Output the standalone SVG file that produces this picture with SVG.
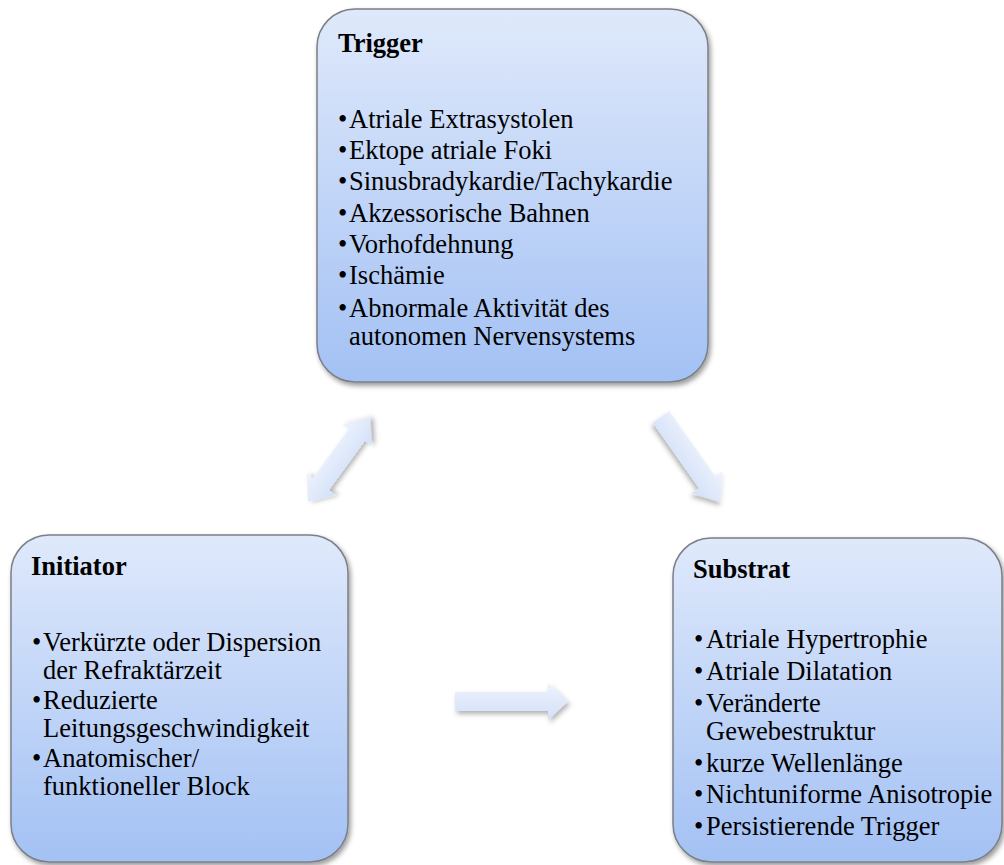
<svg xmlns="http://www.w3.org/2000/svg" width="1004" height="865" viewBox="0 0 1004 865">
<defs>
<linearGradient id="boxg" x1="0" y1="0" x2="0" y2="1">
<stop offset="0" stop-color="#dfe9fb"/>
<stop offset="1" stop-color="#a3c1f4"/>
</linearGradient>
<linearGradient id="arrg" x1="0" y1="0" x2="0" y2="1">
<stop offset="0" stop-color="#eef3fd"/>
<stop offset="1" stop-color="#d2e0f8"/>
</linearGradient>
<filter id="sh" x="-10%" y="-10%" width="125%" height="125%">
<feDropShadow dx="2" dy="3" stdDeviation="2.5" flood-color="#000" flood-opacity="0.4"/>
</filter>
<filter id="sha" x="-30%" y="-30%" width="160%" height="160%">
<feDropShadow dx="2" dy="3" stdDeviation="2.5" flood-color="#000" flood-opacity="0.3"/>
</filter>
</defs>
<style>
.box{fill:url(#boxg);stroke:#7b7f86;stroke-width:1.5;filter:url(#sh)}
.arr{fill:url(#arrg);stroke:none;filter:url(#sha)}
text{font-family:'Liberation Serif',serif;font-size:26.5px;fill:#000}
.t{font-weight:bold}
</style>
<rect width="1004" height="865" fill="#fff"/>
<g id="connectors">
<path class="arr" transform="translate(308,502) rotate(-53.9)" d="M0,0 L22,-18 L22,-10 L83,-10 L83,-18 L105,0 L83,18 L83,10 L22,10 L22,18 Z"/>
<path class="arr" transform="translate(661,417) rotate(54.8)" d="M0,-10 L80,-10 L80,-19 L104,0 L80,19 L80,10 L0,10 Z"/>
<path class="arr" d="M455,692 L548,692 L548,683 L568,701.5 L548,720 L548,711 L455,711 Z"/>
</g>
<g id="trigger">
<rect class="box" x="317" y="9" width="391" height="373" rx="38"/>
<text class="t" x="338" y="52">Trigger</text>
<text x="338" y="128">•</text><text x="349" y="128">Atriale Extrasystolen</text>
<text x="338" y="159">•</text><text x="349" y="159">Ektope atriale Foki</text>
<text x="338" y="190">•</text><text x="349" y="190">Sinusbradykardie/Tachykardie</text>
<text x="338" y="222">•</text><text x="349" y="222">Akzessorische Bahnen</text>
<text x="338" y="253">•</text><text x="349" y="253">Vorhofdehnung</text>
<text x="338" y="284">•</text><text x="349" y="284">Ischämie</text>
<text x="338" y="317">•</text><text x="349" y="317">Abnormale Aktivität des</text>
<text x="349" y="345">autonomen Nervensystems</text>
</g>
<g id="initiator">
<rect class="box" x="11" y="535" width="337" height="327" rx="38"/>
<text class="t" x="31" y="575">Initiator</text>
<text x="32" y="651">•</text><text x="43" y="651">Verkürzte oder Dispersion</text>
<text x="43" y="679">der Refraktärzeit</text>
<text x="32" y="709">•</text><text x="43" y="709">Reduzierte</text>
<text x="43" y="737">Leitungsgeschwindigkeit</text>
<text x="32" y="767">•</text><text x="43" y="767">Anatomischer/</text>
<text x="43" y="795">funktioneller Block</text>
</g>
<g id="substrat">
<rect class="box" x="673" y="538" width="329" height="324" rx="38"/>
<text class="t" x="693" y="578">Substrat</text>
<text x="694" y="648">•</text><text x="706" y="648">Atriale Hypertrophie</text>
<text x="694" y="680">•</text><text x="706" y="680">Atriale Dilatation</text>
<text x="694" y="712">•</text><text x="706" y="712">Veränderte</text>
<text x="706" y="740">Gewebestruktur</text>
<text x="694" y="772">•</text><text x="706" y="772">kurze Wellenlänge</text>
<text x="694" y="803">•</text><text x="706" y="803">Nichtuniforme Anisotropie</text>
<text x="694" y="835">•</text><text x="706" y="835">Persistierende Trigger</text>
</g>
</svg>
